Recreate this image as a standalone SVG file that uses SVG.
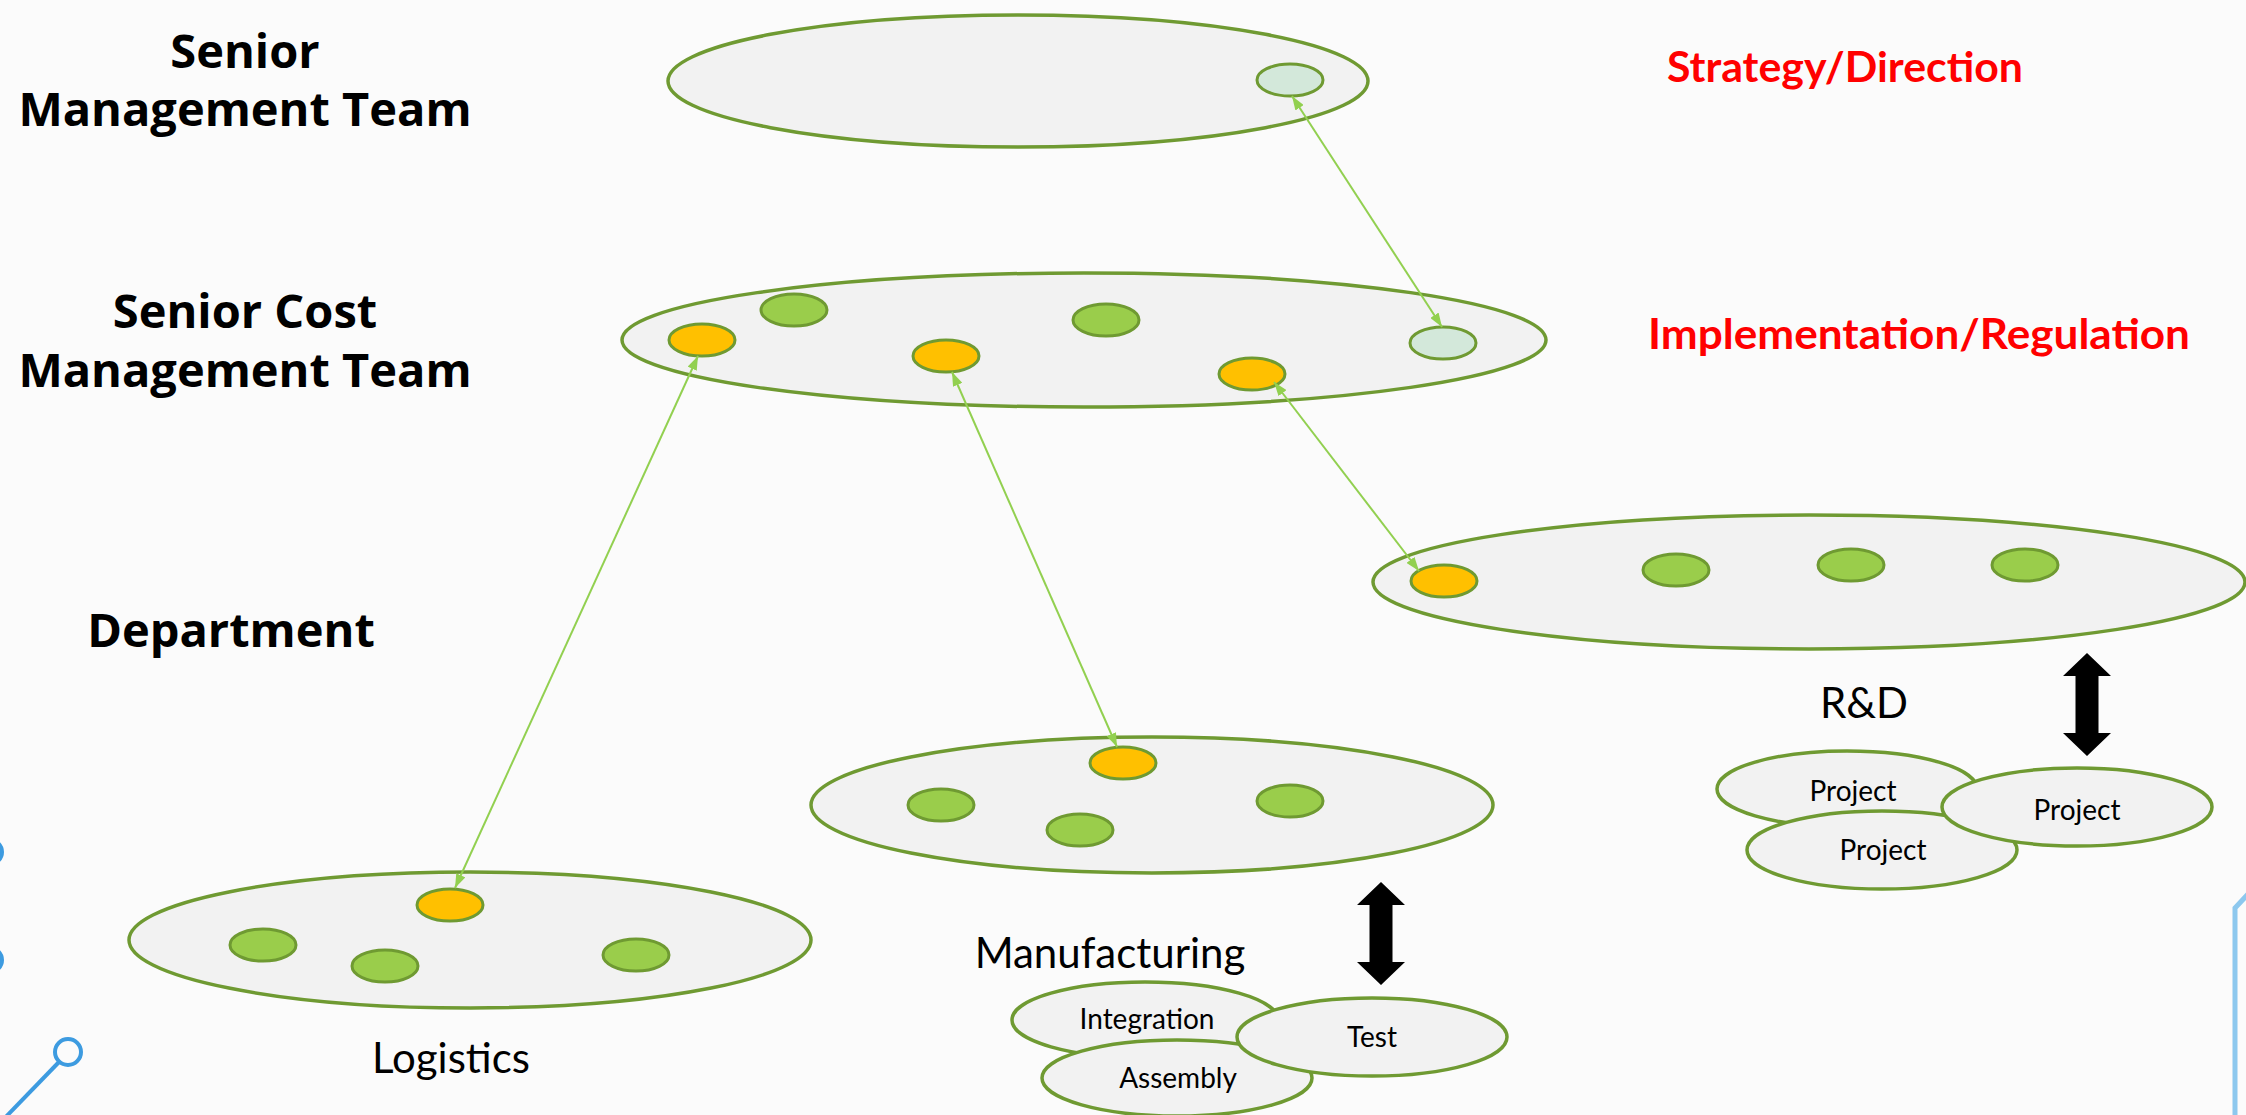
<svg xmlns="http://www.w3.org/2000/svg" width="2246" height="1115" viewBox="0 0 2246 1115">
  <style>
    .group-ell { fill: #f2f2f2; stroke: #6f9a32; stroke-width: 3.5; }
    .sub-ell { fill: #f2f2f2; stroke: #6f9a32; stroke-width: 3.5; }
    .member { stroke: #6f9a32; stroke-width: 3; }
    .green { fill: #9acd4b; }
    .amber { fill: #ffc000; }
    .pale { fill: #d3e8da; }
    .link { stroke: #92d050; stroke-width: 2; fill: none; marker-start: url(#tip); marker-end: url(#tip); }
    .tier { font-family: "Open Sans", "Liberation Sans", sans-serif; font-weight: 700; font-size: 47px; fill: #000; text-anchor: middle; }
    .role { font-family: Lato, "Liberation Sans", sans-serif; font-weight: 700; font-size: 42px; fill: #ff0000; }
    .dept { font-family: Lato, "Liberation Sans", sans-serif; font-size: 42px; fill: #000; text-anchor: middle; }
    .small { font-family: Lato, "Liberation Sans", sans-serif; font-size: 28px; fill: #000; text-anchor: middle; }
    .swap { fill: #000; }
    .deco { fill: none; stroke: #3d9be0; stroke-width: 4; }
  </style>
  <defs>
    <marker id="tip" viewBox="0 0 14 10" refX="14" refY="5" markerWidth="14" markerHeight="10" markerUnits="userSpaceOnUse" orient="auto-start-reverse">
      <path d="M0,0 L14,5 L0,10 Z" fill="#92d050"/>
    </marker>
    <!-- vertical two-headed block arrow, 103 tall, origin at top tip -->
    <path id="dbl" d="M0,0 L24,23 L11.5,23 L11.5,80 L24,80 L0,103 L-24,80 L-11.5,80 L-11.5,23 L-24,23 Z"/>
  </defs>

  <rect width="2246" height="1115" fill="#fbfbfb"/>

  <!-- edge ornaments -->
  <g id="ornaments">
    <circle class="deco" cx="68" cy="1052" r="13"/>
    <line class="deco" x1="59" y1="1062" x2="-2" y2="1125"/>
    <circle class="deco" cx="-10" cy="852" r="12"/>
    <circle class="deco" cx="-10" cy="960" r="12"/>
    <polyline points="2250,892 2235,908 2235,1120" fill="none" stroke="#8dc8ee" stroke-width="5"/>
  </g>

  <!-- tier labels -->
  <g id="labels">
    <text class="tier" x="245" y="68">Senior</text>
    <text class="tier" x="245" y="126">Management Team</text>
    <text class="tier" x="245" y="328">Senior Cost</text>
    <text class="tier" x="245" y="387">Management Team</text>
    <text class="tier" x="231" y="647">Department</text>
    <text class="role" x="1667" y="82" textLength="356" lengthAdjust="spacingAndGlyphs">Strategy/Direction</text>
    <text class="role" x="1648" y="349" textLength="542" lengthAdjust="spacingAndGlyphs">Implementation/Regulation</text>
  </g>

  <!-- senior management team -->
  <g id="smt">
    <ellipse class="group-ell" cx="1018" cy="81" rx="350" ry="66"/>
    <ellipse class="member pale" cx="1290" cy="80" rx="33" ry="16"/>
  </g>

  <!-- senior cost management team -->
  <g id="scmt">
    <ellipse class="group-ell" cx="1084" cy="340" rx="462" ry="67"/>
    <ellipse class="member amber" cx="702" cy="340" rx="33" ry="16"/>
    <ellipse class="member green" cx="794" cy="310" rx="33" ry="16"/>
    <ellipse class="member amber" cx="946" cy="356" rx="33" ry="16"/>
    <ellipse class="member green" cx="1106" cy="320" rx="33" ry="16"/>
    <ellipse class="member amber" cx="1252" cy="374" rx="33" ry="16"/>
    <ellipse class="member pale" cx="1443" cy="343" rx="33" ry="16"/>
  </g>

  <!-- R&D department -->
  <g id="rnd">
    <ellipse class="group-ell" cx="1809" cy="582" rx="436" ry="67"/>
    <ellipse class="member amber" cx="1444" cy="581" rx="33" ry="16"/>
    <ellipse class="member green" cx="1676" cy="570" rx="33" ry="16"/>
    <ellipse class="member green" cx="1851" cy="565" rx="33" ry="16"/>
    <ellipse class="member green" cx="2025" cy="565" rx="33" ry="16"/>
  </g>

  <!-- manufacturing department -->
  <g id="manufacturing">
    <ellipse class="group-ell" cx="1152" cy="805" rx="341" ry="68"/>
    <ellipse class="member amber" cx="1123" cy="763" rx="33" ry="16"/>
    <ellipse class="member green" cx="1290" cy="801" rx="33" ry="16"/>
    <ellipse class="member green" cx="1080" cy="830" rx="33" ry="16"/>
    <ellipse class="member green" cx="941" cy="805" rx="33" ry="16"/>
  </g>

  <!-- logistics department -->
  <g id="logistics">
    <ellipse class="group-ell" cx="470" cy="940" rx="341" ry="68"/>
    <ellipse class="member amber" cx="450" cy="905" rx="33" ry="16"/>
    <ellipse class="member green" cx="263" cy="945" rx="33" ry="16"/>
    <ellipse class="member green" cx="385" cy="966" rx="33" ry="16"/>
    <ellipse class="member green" cx="636" cy="955" rx="33" ry="16"/>
    <text class="dept" x="451" y="1073">Logistics</text>
  </g>

  <!-- manufacturing sub-teams -->
  <g id="mfg-teams">
    <text class="dept" x="1110" y="968">Manufacturing</text>
    <ellipse class="sub-ell" cx="1145" cy="1020" rx="133" ry="38"/>
    <text class="small" x="1147" y="1029">Integration</text>
    <ellipse class="sub-ell" cx="1177" cy="1078" rx="135" ry="38"/>
    <text class="small" x="1178" y="1088">Assembly</text>
    <ellipse class="sub-ell" cx="1372" cy="1037" rx="135" ry="39"/>
    <text class="small" x="1372" y="1047">Test</text>
    <use href="#dbl" class="swap" x="1381" y="882"/>
  </g>

  <!-- R&D projects -->
  <g id="rnd-projects">
    <text class="dept" x="1864" y="718">R&amp;D</text>
    <ellipse class="sub-ell" cx="1847" cy="789" rx="130" ry="38"/>
    <text class="small" x="1853" y="801">Project</text>
    <ellipse class="sub-ell" cx="1882" cy="850" rx="135" ry="39"/>
    <text class="small" x="1883" y="860">Project</text>
    <ellipse class="sub-ell" cx="2077" cy="807" rx="135" ry="39"/>
    <text class="small" x="2077" y="820">Project</text>
    <use href="#dbl" class="swap" x="2087" y="653"/>
  </g>

  <!-- connectors between tiers -->
  <g id="connectors">
    <line class="link" x1="1292" y1="96" x2="1442" y2="327"/>
    <line class="link" x1="698" y1="356" x2="455" y2="888"/>
    <line class="link" x1="952" y1="372" x2="1117" y2="747"/>
    <line class="link" x1="1274" y1="382" x2="1419" y2="571"/>
  </g>
</svg>
